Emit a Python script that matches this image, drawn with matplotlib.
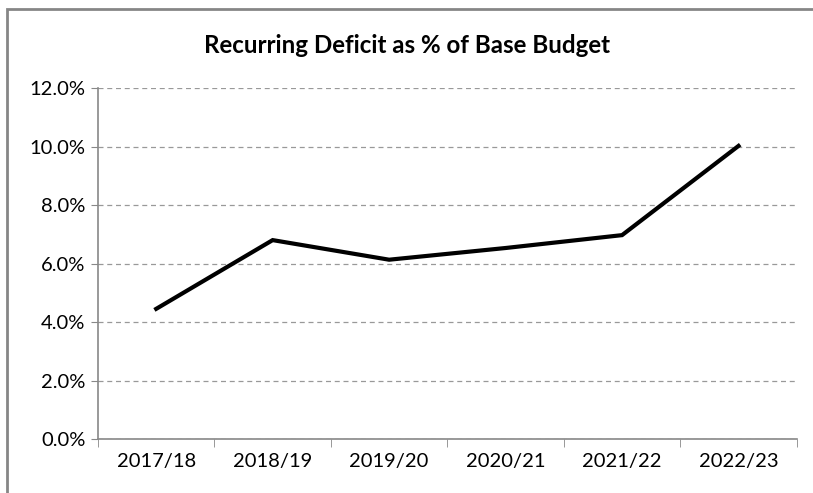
import matplotlib
matplotlib.use('Agg')
import matplotlib.pyplot as plt
from matplotlib.patches import Rectangle
from matplotlib.ticker import FixedLocator

plt.rcParams['font.family'] = ['Lato', 'DejaVu Sans']

years = ['2017/18', '2018/19', '2019/20', '2020/21', '2021/22', '2022/23']
deficit_pct = [4.45, 6.8, 6.13, 6.53, 6.97, 10.02]
yticks = [0, 2, 4, 6, 8, 10, 12]

fig = plt.figure(figsize=(8.13, 4.93), dpi=100)
ax = fig.add_axes([0.1205, 0.1095, 0.8595, 0.712])

xs = list(range(len(years)))
ax.plot(xs, deficit_pct, color='black', lw=3, solid_joinstyle='miter')

ax.set_xlim(-0.5, len(years) - 0.5)
ax.set_ylim(0, 12)
ax.set_yticks(yticks)
ax.set_yticklabels(['%.1f%%' % v for v in yticks], fontsize=14.5)
ax.set_xticks(xs)
ax.set_xticklabels(years, fontsize=14.5)
ax.xaxis.set_minor_locator(FixedLocator([i - 0.5 for i in range(len(years) + 1)]))
ax.tick_params(axis='x', which='major', length=0, pad=10)
ax.tick_params(axis='x', which='minor', length=6, color='#888888')
ax.tick_params(axis='y', length=5, color='#888888', pad=4)

ax.yaxis.grid(True, ls=(0, (4, 3)), color='#999999', lw=0.9)
ax.set_axisbelow(True)
for s in ['top', 'right']:
    ax.spines[s].set_visible(False)
for s in ['left', 'bottom']:
    ax.spines[s].set_color('#888888')
    ax.spines[s].set_linewidth(1.2)

fig.text(0.5, 0.908, 'Recurring Deficit as % of Base Budget', ha='center', va='center',
         fontsize=17.4, fontweight='bold')

# chart border (right and bottom edges fall outside the image)
fig.patches.append(Rectangle((7 / 813, -0.1), 1.2, 1.1 - 9 / 493, transform=fig.transFigure,
                             fill=False, edgecolor='#868686', lw=2))

fig.savefig('out.png', dpi=100)
